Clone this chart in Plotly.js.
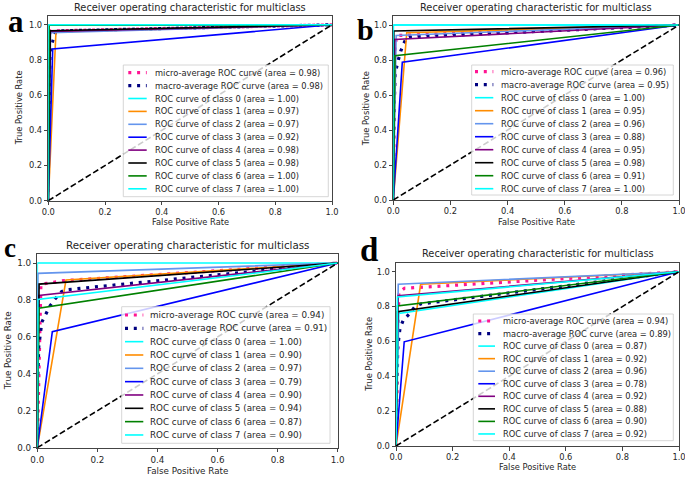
<!DOCTYPE html>
<html>
<head>
<meta charset="utf-8">
<script src="https://cdn.plot.ly/plotly-3.0.1.min.js"></script>
<style>
  html, body { margin: 0; padding: 0; background: #fff; }
  #chart { width: 685px; height: 477px; }
</style>
</head>
<body>
<div id="chart"></div>
<script>
// ---------------- DATA ----------------
const classLabels = ['0', '1', '2', '3', '4', '5', '6', '7'];
const axisTicks = [0, 0.2, 0.4, 0.6, 0.8, 1.0];
const diagonalFpr = [0, 1];
const diagonalTpr = [0, 1];

// Panel a
const aMicroFpr = [0, 0.003, 0.01, 1];
const aMicroTpr = [0, 0.94, 0.965, 1];
const aMacroFpr = [0, 0.003, 0.006, 0.012, 0.02, 0.027, 1];
const aMacroTpr = [0.3, 0.6, 0.83, 0.89, 0.935, 0.965, 1];
const aClassFpr = [[0, 0, 1], [0, 0.027, 1], [0, 0.008, 1], [0, 0.0155, 1], [0, 0.006, 1], [0, 0.007, 1], [0, 0.003, 1], [0, 0, 1]];
const aClassTpr = [[0, 1, 1], [0, 0.96, 1], [0, 0.955, 1], [0, 0.863, 1], [0, 0.962, 1], [0, 0.966, 1], [0, 0.997, 1], [0, 1, 1]];
const aAvgAreas = [0.98, 0.98];
const aClassAreas = [1.00, 0.97, 0.97, 0.92, 0.98, 0.98, 1.00, 1.00];

// Panel b
const bMicroFpr = [0, 0.006, 0.012, 1];
const bMicroTpr = [0, 0.88, 0.94, 1];
const bMacroFpr = [0, 0.006, 0.0175, 0.026, 0.037, 0.047, 1];
const bMacroTpr = [0.3, 0.72, 0.80, 0.851, 0.895, 0.93, 1];
const bClassFpr = [[0, 0, 1], [0, 0.047, 1], [0, 0.01, 1], [0, 0.0315, 1], [0, 0.005, 1], [0, 0.002, 1], [0, 0.006, 1], [0, 0, 1]];
const bClassTpr = [[0, 1, 1], [0, 0.956, 1], [0, 0.94, 1], [0, 0.787, 1], [0, 0.918, 1], [0, 0.966, 1], [0, 0.825, 1], [0, 1, 1]];
const bAvgAreas = [0.96, 0.95];
const bClassAreas = [1.00, 0.95, 0.96, 0.88, 0.95, 0.98, 0.91, 1.00];

// Panel c
const cMicroFpr = [0, 0.012, 0.09, 1];
const cMicroTpr = [0, 0.885, 0.905, 1];
const cMacroFpr = [0, 0.005, 0.015, 0.026, 0.042, 0.059, 0.081, 0.0955, 1];
const cMacroTpr = [0.3, 0.55, 0.68, 0.718, 0.767, 0.805, 0.845, 0.855, 1];
const cClassFpr = [[0, 0, 1], [0, 0.0955, 1], [0, 0.002, 1], [0, 0.05, 1], [0, 0.005, 1], [0, 0.006, 1], [0, 0.005, 1], [0, 0.002, 1]];
const cClassTpr = [[0, 1, 1], [0, 0.908, 1], [0, 0.944, 1], [0, 0.628, 1], [0, 0.825, 1], [0, 0.886, 1], [0, 0.755, 1], [0, 0.803, 1]];
const cAvgAreas = [0.94, 0.91];
const cClassAreas = [1.00, 0.90, 0.97, 0.79, 0.90, 0.94, 0.87, 0.90];

// Panel d
const dMicroFpr = [0, 0.01, 0.03, 1];
const dMicroTpr = [0, 0.88, 0.905, 1];
const dMacroFpr = [0, 0.005, 0.014, 0.026, 0.049, 0.067, 0.087, 1];
const dMacroTpr = [0.2, 0.55, 0.675, 0.723, 0.761, 0.8, 0.815, 1];
const dClassFpr = [[0, 0.01, 1], [0, 0.087, 1], [0, 0.008, 1], [0, 0.029, 1], [0, 0.008, 1], [0, 0.005, 1], [0, 0.005, 1], [0, 0.005, 1]];
const dClassTpr = [[0, 0.76, 1], [0, 0.928, 1], [0, 0.928, 1], [0, 0.598, 1], [0, 0.862, 1], [0, 0.77, 1], [0, 0.803, 1], [0, 0.855, 1]];
const dAvgAreas = [0.94, 0.89];
const dClassAreas = [0.87, 0.92, 0.96, 0.78, 0.92, 0.88, 0.90, 0.92];

// ---------------- STYLE / LAYOUT ----------------
const W = 685, H = 477;
const px = v => v / W;
const py = v => 1 - v / H;
const FONT = 'DejaVu Sans, sans-serif';
const TXT = '#262626';
const classColors = ['#00ffff', '#ff8c00', '#6495ed', '#0000ff', '#800080', '#000000', '#008000', '#00ffff'];
const microColor = '#ff1493', macroColor = '#000080';
const LW = 1.6, DOTW = 3.2, DOTDASH = '3px,5.8px';

const panels = [
  { letter: 'a', microF: aMicroFpr, microT: aMicroTpr, macroF: aMacroFpr, macroT: aMacroTpr, cf: aClassFpr, ct: aClassTpr, avg: aAvgAreas, areas: aClassAreas,
    box: [48.3, 16, 332, 200.7], fs: 8.3, tfs: 9.8, titleY: 7.5, xtY: 221.7, ytX: 19,
    leg: { box: [123.3, 65, 328.3, 196.7], s0: 128.3, s1: 146.7, tx: 153.3, y0: 72.7, dy: 12.9 },
    lab: { x: 16, y: 31.7, size: 31 } },
  { letter: 'b', microF: bMicroFpr, microT: bMicroTpr, macroF: bMacroFpr, macroT: bMacroTpr, cf: bClassFpr, ct: bClassTpr, avg: bAvgAreas, areas: bClassAreas,
    box: [393.3, 16.3, 679, 200], fs: 8.3, tfs: 9.8, titleY: 7.5, xtY: 221.7, ytX: 366,
    leg: { box: [471.7, 65, 673.3, 195], s0: 475, s1: 493.3, tx: 499.3, y0: 71.7, dy: 13.0 },
    lab: { x: 365.5, y: 40, size: 30 } },
  { letter: 'c', microF: cMicroFpr, microT: cMicroTpr, macroF: cMacroFpr, macroT: cMacroTpr, cf: cClassFpr, ct: cClassTpr, avg: cAvgAreas, areas: cClassAreas,
    box: [37.3, 253.8, 337.7, 447.7], fs: 8.75, tfs: 10.3, titleY: 245, xtY: 471, ytX: 7.5,
    leg: { box: [121.7, 306.7, 330, 443.3], s0: 125, s1: 143.3, tx: 148.3, y0: 315, dy: 13.33 },
    lab: { x: 10.3, y: 256.7, size: 27 } },
  { letter: 'd', microF: dMicroFpr, microT: dMicroTpr, macroF: dMacroFpr, macroT: dMacroTpr, cf: dClassFpr, ct: dClassTpr, avg: dAvgAreas, areas: dClassAreas,
    box: [396, 263, 679, 446], fs: 8.3, tfs: 9.8, titleY: 254, xtY: 467.3, ytX: 368.3,
    leg: { box: [473.3, 314, 673.3, 440.7], s0: 478.3, s1: 495, tx: 501, y0: 321, dy: 12.55 },
    lab: { x: 369, y: 261, size: 33 } }
];

const traces = [];
const shapes = [];
const annotations = [];
const layout = {
  width: W, height: H,
  margin: { l: 0, r: 0, t: 0, b: 0 },
  paper_bgcolor: '#ffffff', plot_bgcolor: '#ffffff',
  showlegend: false,
  font: { family: FONT, color: TXT }
};

panels.forEach((p, k) => {
  const n = k === 0 ? '' : String(k + 1);
  const xa = 'x' + n, ya = 'y' + n;
  const [L, T, R, B] = p.box;
  const axisCommon = {
    showgrid: false, zeroline: false, showline: true, mirror: true,
    linecolor: '#444', linewidth: 1, ticks: 'outside', ticklen: 3.5, tickwidth: 1, tickcolor: '#444',
    tickvals: axisTicks, tickformat: '.1f', tickfont: { family: FONT, size: p.fs, color: TXT },
    ticklabeloverflow: 'allow', fixedrange: true
  };
  layout['xaxis' + n] = Object.assign({}, axisCommon, { domain: [px(L), px(R)], range: [0, 1], anchor: ya });
  layout['yaxis' + n] = Object.assign({}, axisCommon, { domain: [py(B), py(T)], range: [0, 1.05], anchor: xa });

  const base = { xaxis: xa, yaxis: ya, mode: 'lines', hoverinfo: 'skip', showlegend: false };
  traces.push(Object.assign({}, base, { x: p.microF, y: p.microT, line: { color: microColor, width: DOTW, dash: DOTDASH } }));
  traces.push(Object.assign({}, base, { x: p.macroF, y: p.macroT, line: { color: macroColor, width: DOTW, dash: DOTDASH } }));
  for (let i = 0; i < classLabels.length; i++) {
    traces.push(Object.assign({}, base, { x: p.cf[i], y: p.ct[i], line: { color: classColors[i], width: LW } }));
  }
  traces.push(Object.assign({}, base, { x: diagonalFpr, y: diagonalTpr, line: { color: '#000000', width: LW, dash: '6px,2.8px' } }));

  // titles
  annotations.push({ xref: 'paper', yref: 'paper', x: px((L + R) / 2), y: py(p.titleY), xanchor: 'center', yanchor: 'middle',
    text: 'Receiver operating characteristic for multiclass', showarrow: false, font: { family: FONT, size: p.tfs, color: TXT } });
  annotations.push({ xref: 'paper', yref: 'paper', x: px((L + R) / 2), y: py(p.xtY), xanchor: 'center', yanchor: 'middle',
    text: 'False Positive Rate', showarrow: false, font: { family: FONT, size: p.fs, color: TXT } });
  annotations.push({ xref: 'paper', yref: 'paper', x: px(p.ytX), y: py((T + B) / 2), xanchor: 'center', yanchor: 'middle', textangle: -90,
    text: 'True Positive Rate', showarrow: false, font: { family: FONT, size: p.fs, color: TXT } });
  // panel letter
  annotations.push({ xref: 'paper', yref: 'paper', x: px(p.lab.x), y: py(p.lab.y - 0.34 * p.lab.size), xanchor: 'center', yanchor: 'middle',
    text: p.letter, showarrow: false, font: { family: 'Liberation Serif, serif', size: p.lab.size, color: '#000', weight: 'bold' } });

  // legend (lower right)
  const lg = p.leg;
  shapes.push({ type: 'rect', xref: 'paper', yref: 'paper', layer: 'above',
    x0: px(lg.box[0]), x1: px(lg.box[2]), y0: py(lg.box[3]), y1: py(lg.box[1]),
    fillcolor: 'rgba(255,255,255,0.8)', line: { color: '#cccccc', width: 0.8 } });
  const entries = [
    { text: 'micro-average ROC curve (area = ' + p.avg[0].toFixed(2) + ')', color: microColor, width: DOTW, dash: DOTDASH },
    { text: 'macro-average ROC curve (area = ' + p.avg[1].toFixed(2) + ')', color: macroColor, width: DOTW, dash: DOTDASH }
  ];
  classLabels.forEach((c, i) => entries.push({ text: 'ROC curve of class ' + c + ' (area = ' + p.areas[i].toFixed(2) + ')', color: classColors[i], width: LW, dash: 'solid' }));
  entries.forEach((e, i) => {
    const yy = lg.y0 + i * lg.dy;
    shapes.push({ type: 'line', xref: 'paper', yref: 'paper', layer: 'above',
      x0: px(lg.s0), x1: px(lg.s1), y0: py(yy), y1: py(yy), line: { color: e.color, width: e.width, dash: e.dash } });
    annotations.push({ xref: 'paper', yref: 'paper', x: px(lg.tx), y: py(yy), xanchor: 'left', yanchor: 'middle',
      text: e.text, showarrow: false, font: { family: FONT, size: p.fs, color: TXT } });
  });
});

layout.shapes = shapes;
layout.annotations = annotations;

Plotly.newPlot('chart', traces, layout, { staticPlot: true, displayModeBar: false });
</script>
</body>
</html>
